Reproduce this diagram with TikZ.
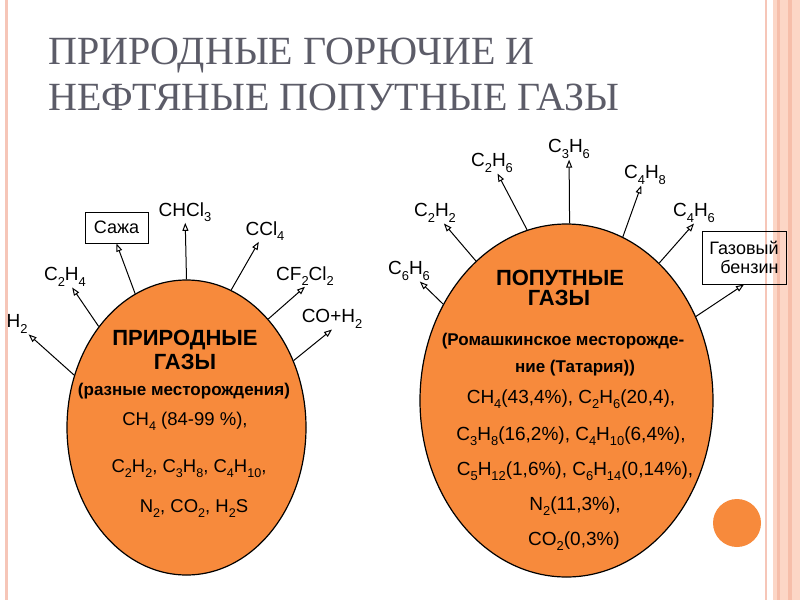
\documentclass[tikz,border=0pt]{standalone}
\usepackage{fontspec}
\setmainfont{Liberation Sans}
\newfontfamily\titlefont{Liberation Serif}
\usetikzlibrary{arrows.meta, shapes.geometric}
\definecolor{gasorange}{RGB}{247,138,60}
\definecolor{titlegray}{RGB}{92,92,104}
\definecolor{edgepink}{RGB}{246,198,184}
\definecolor{bandpink}{RGB}{252,214,198}
\definecolor{stripepink}{RGB}{246,190,170}
\newcommand{\sbs}[1]{\raisebox{-0.28em}{\scalebox{0.68}{#1}}}

\begin{document}
\begin{tikzpicture}[x=1pt, y=-1pt,
    ray/.style={-{Triangle[open, length=8pt, width=6pt]}, line width=1pt},
    product/.style={inner sep=1pt, font=\fontsize{19}{22}\selectfont},
    boxed/.style={draw, line width=1pt, inner sep=2pt,
                  font=\fontsize{18}{19}\selectfont},
    gasfield/.style={draw, ellipse, fill=gasorange, line width=1.2pt,
                     inner sep=0pt},
    heading/.style={anchor=base, font=\bfseries\fontsize{22}{24}\selectfont},
    remark/.style={anchor=base, font=\bfseries\fontsize{17}{20}\selectfont},
    makeup/.style={anchor=base, font=\fontsize{19}{22}\selectfont}
  ]
  \useasboundingbox (0,0) rectangle (800,600);
  \fill[white] (0,0) rectangle (800,600);

  % slide frame
  \fill[edgepink] (5,0) rectangle (8,600);
  \fill[edgepink] (765,0) rectangle (767,600);
  \fill[bandpink] (773,0) rectangle (800,600);
  \fill[stripepink] (777,0) rectangle (780,600);
  \fill[stripepink] (788,0) rectangle (792,600);
  \fill[gasorange] (737,523) circle (24);

  % title
  \node[anchor=base west, inner sep=0pt, text=titlegray,
        font=\titlefont\fontsize{40}{44}\selectfont] (title1) at (48,64)
    {ПРИРОДНЫЕ ГОРЮЧИЕ И};
  \node[anchor=base west, inner sep=0pt, text=titlegray,
        font=\titlefont\fontsize{40}{44}\selectfont] (title2) at (48,110)
    {НЕФТЯНЫЕ ПОПУТНЫЕ ГАЗЫ};

  % natural gas
  \node[gasfield, minimum width=239pt, minimum height=295pt] (natural)
    at (186.5,427.5) {};
  \node[heading] (natname) at (185,345) {ПРИРОДНЫЕ};
  \node[heading] (natname2) at (185,369) {ГАЗЫ};
  \node[remark] (natfields) at (184,395) {(разные месторождения)};
  \node[makeup, font=\fontsize{18.5}{22}\selectfont] (natch4) at (185,425)
    {CH\sbs{4} (84-99 \%),};
  \node[makeup, font=\fontsize{18.5}{22}\selectfont] (natheavy) at (189,472)
    {C\sbs{2}H\sbs{2}, C\sbs{3}H\sbs{8}, C\sbs{4}H\sbs{10},};
  \node[makeup, font=\fontsize{18.5}{22}\selectfont] (natother) at (194,512)
    {N\sbs{2}, CO\sbs{2}, H\sbs{2}S};

  \node[product] (h2) at (17,324) {H\sbs{2}};
  \node[product] (c2h4) at (65,277) {C\sbs{2}H\sbs{4}};
  \node[boxed, minimum width=63pt, minimum height=31pt] (soot)
    at (116.5,227.5) {Сажа};
  \node[product] (chcl3) at (185,212) {CHCl\sbs{3}};
  \node[product] (ccl4) at (265,231) {CCl\sbs{4}};
  \node[product] (cf2cl2) at (305,276) {CF\sbs{2}Cl\sbs{2}};
  \node[product] (coh2) at (332,319) {CO+H\sbs{2}};

  \draw[ray] (natural.155) -- (h2.south east);
  \draw[ray] (natural.131) -- (c2h4);
  \draw[ray] (natural.111) -- (soot.south);
  \draw[ray] (natural.90) -- (chcl3);
  \draw[ray] (natural.72) -- (ccl4);
  \draw[ray] (natural.53) -- (cf2cl2.south);
  \draw[ray] (natural.32) -- (coh2.south);

  % associated petroleum gas
  \node[gasfield, minimum width=293pt, minimum height=353pt] (associated)
    at (566.5,400.5) {};
  \node[heading] (assname) at (560,285) {ПОПУТНЫЕ};
  \node[heading] (assname2) at (559,305) {ГАЗЫ};
  \node[remark] (assfield) at (563,345) {(Ромашкинское месторожде-};
  \node[remark] (assfield2) at (575,372) {ние (Татария))};
  \node[makeup] (assline1) at (571,403)
    {CH\sbs{4}(43,4\%), C\sbs{2}H\sbs{6}(20,4),};
  \node[makeup] (assline2) at (571,440)
    {C\sbs{3}H\sbs{8}(16,2\%), C\sbs{4}H\sbs{10}(6,4\%),};
  \node[makeup] (assline3) at (575,475)
    {C\sbs{5}H\sbs{12}(1,6\%), C\sbs{6}H\sbs{14}(0,14\%),};
  \node[makeup] (assline4) at (575,510) {N\sbs{2}(11,3\%),};
  \node[makeup] (assline5) at (574,545) {CO\sbs{2}(0,3\%)};

  \node[product] (c6h6) at (409,271) {C\sbs{6}H\sbs{6}};
  \node[product] (c2h2) at (435,213) {C\sbs{2}H\sbs{2}};
  \node[product] (c2h6) at (492,163) {C\sbs{2}H\sbs{6}};
  \node[product] (c3h6) at (569,149) {C\sbs{3}H\sbs{6}};
  \node[product] (c4h8) at (645,175) {C\sbs{4}H\sbs{8}};
  \node[product] (c4h6) at (694,213) {C\sbs{4}H\sbs{6}};
  \node[boxed, align=right, minimum width=84pt, minimum height=53pt]
    (gasoline) at (744,257.5) {Газовый\\бензин};

  \draw[ray] (associated.142) -- (c6h6);
  \draw[ray] (associated.123) -- (c2h2);
  \draw[ray] (associated.103) -- (c2h6);
  \draw[ray] (associated.89) -- (c3h6);
  \draw[ray] (associated.71) -- (c4h8);
  \draw[ray] (associated.56) -- (c4h6.south);
  \draw[ray] (associated.33) -- (gasoline.south);
\end{tikzpicture}
\end{document}
